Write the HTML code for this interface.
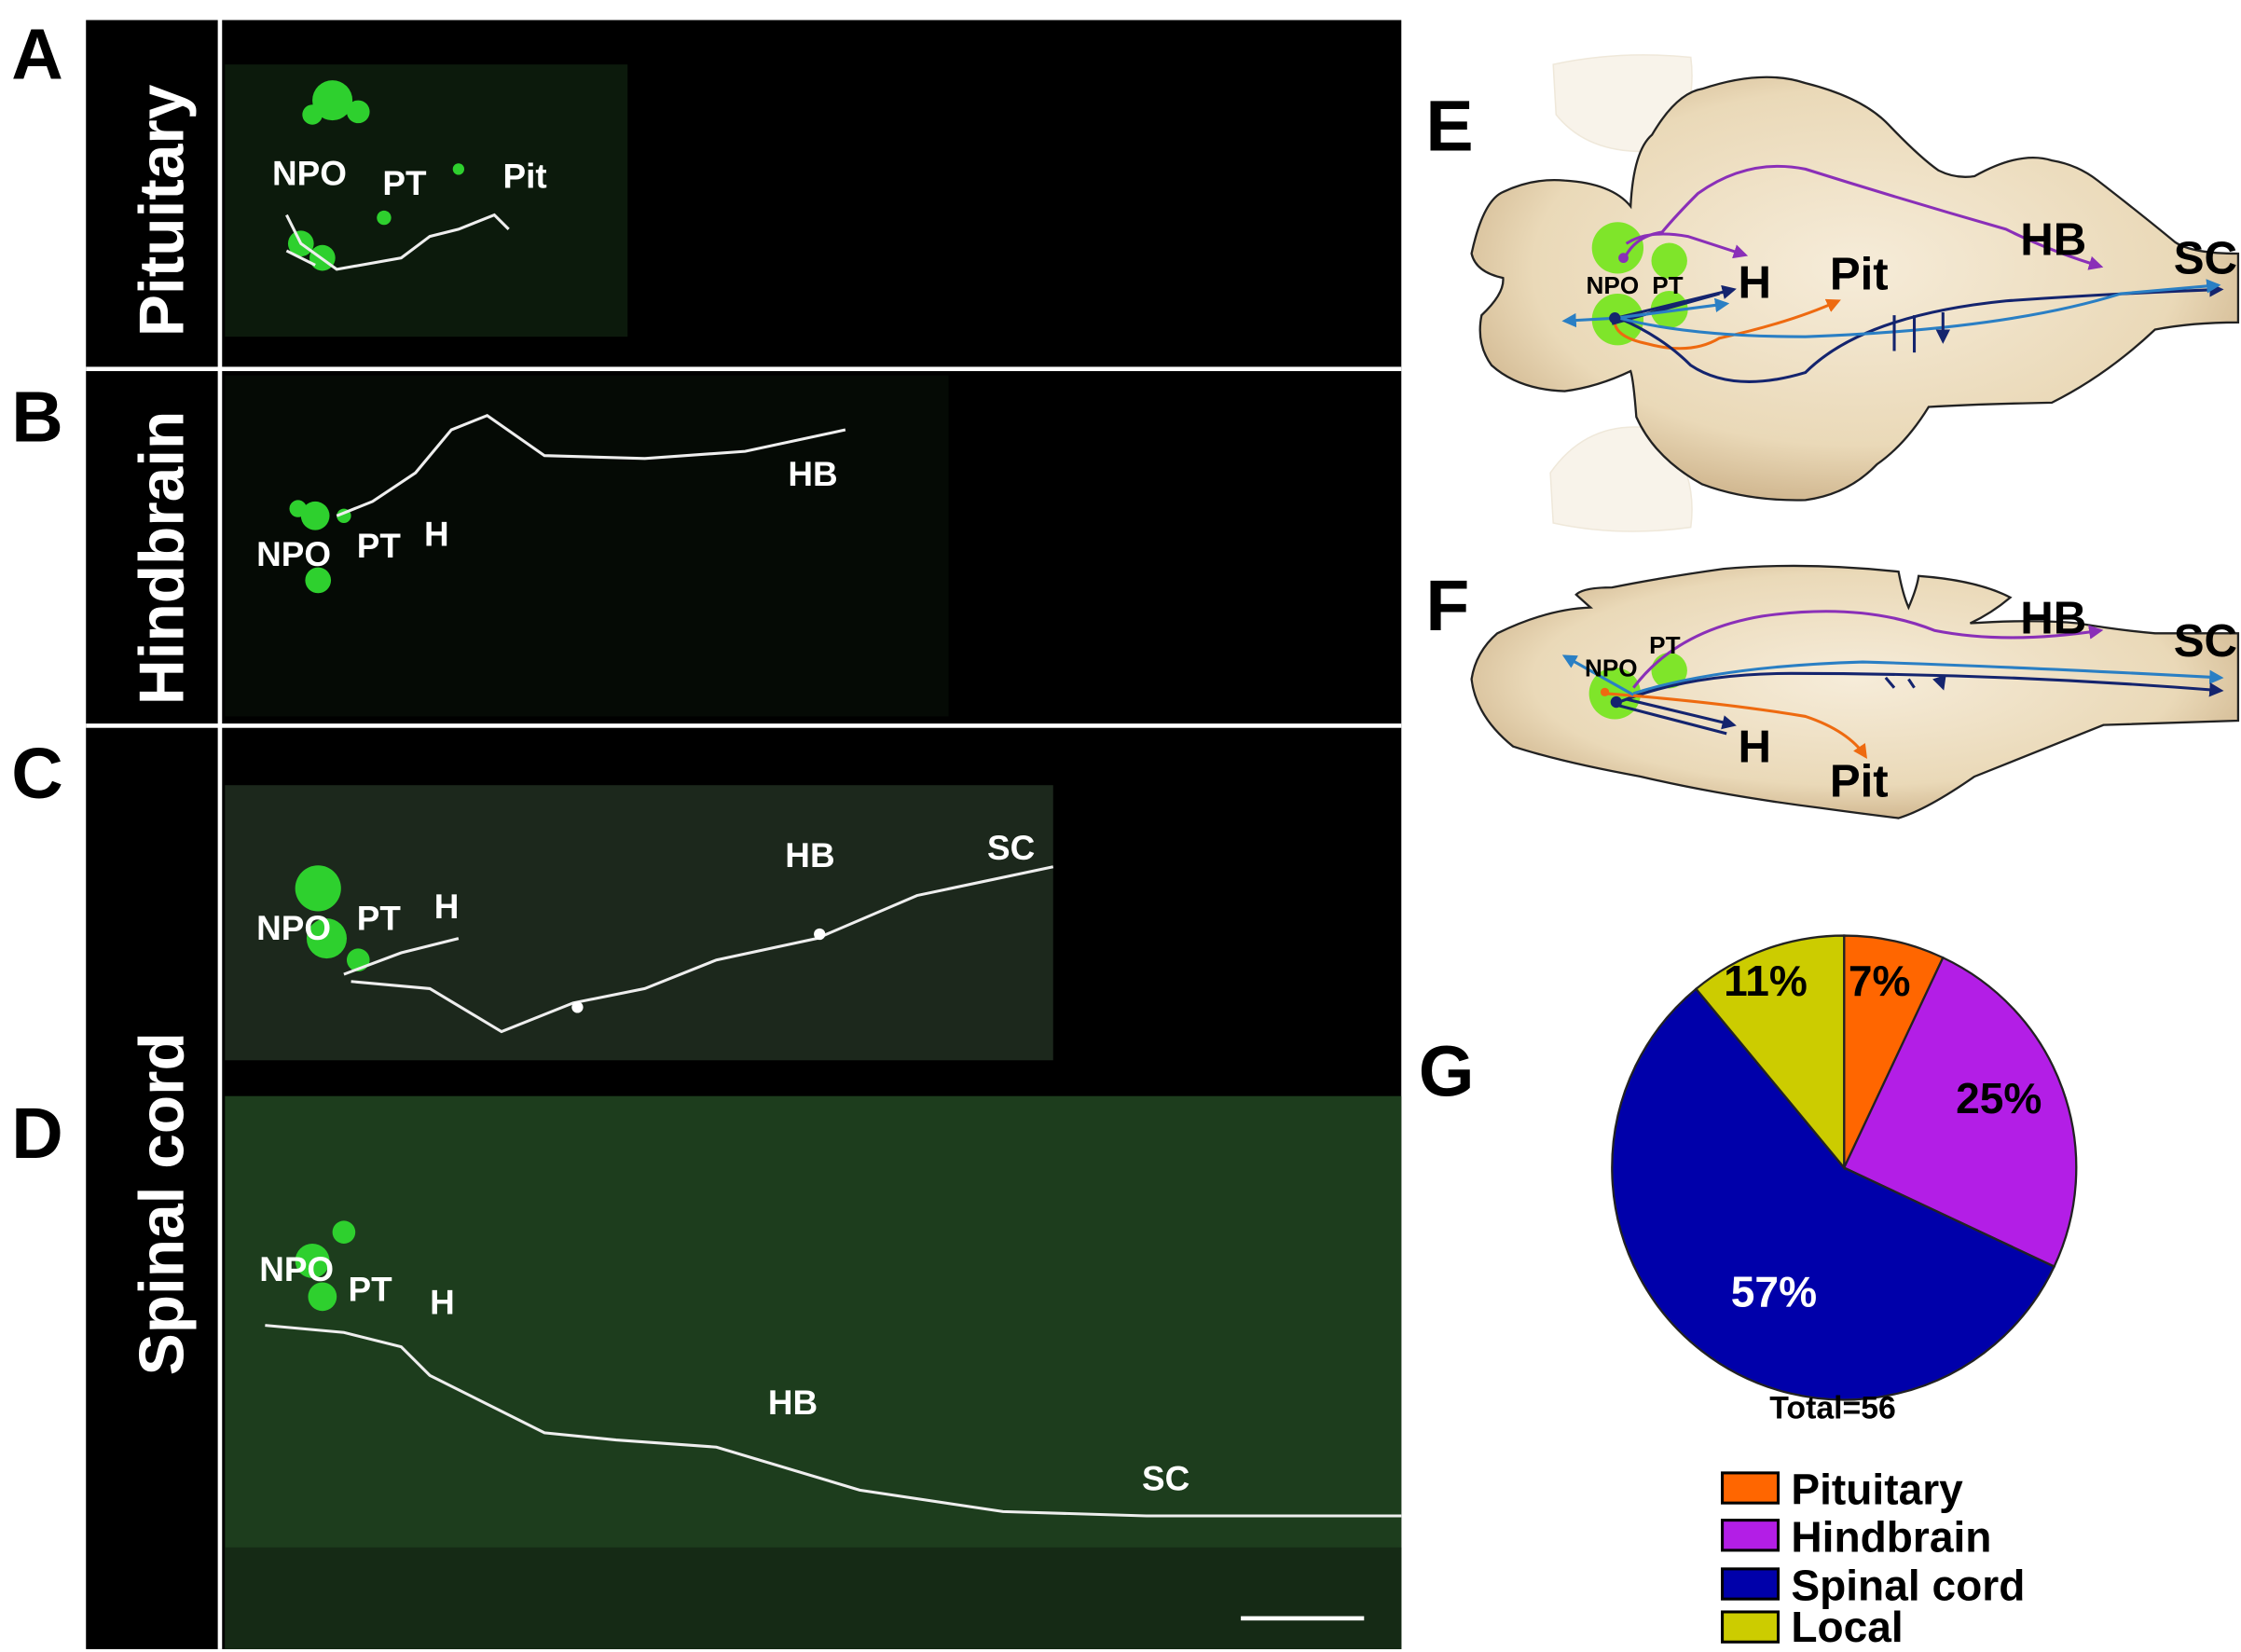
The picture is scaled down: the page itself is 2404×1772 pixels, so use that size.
<!DOCTYPE html>
<html><head><meta charset="utf-8"><style>html,body{margin:0;padding:0;background:#fff}svg{display:block}</style></head>
<body>
<svg width="2404" height="1772" viewBox="0 0 1564 1153" preserveAspectRatio="none" xmlns="http://www.w3.org/2000/svg" font-family="Liberation Sans, Arial, sans-serif">
<defs>
<radialGradient id="bg" cx="50%" cy="45%" r="60%"><stop offset="0" stop-color="#f6ecd9"/><stop offset="0.7" stop-color="#ead9b8"/><stop offset="1" stop-color="#c9ad84"/></radialGradient>
<marker id="ar" viewBox="0 0 10 10" refX="8" refY="5" markerWidth="5" markerHeight="5" orient="auto"><path d="M0,0L10,5L0,10z" fill="context-stroke"/></marker>
<marker id="ap" viewBox="0 0 10 10" refX="8" refY="5" markerWidth="5" markerHeight="5" orient="auto"><path d="M0,0L10,5L0,10z" fill="#8a2fb8"/></marker>
<marker id="ao" viewBox="0 0 10 10" refX="8" refY="5" markerWidth="5" markerHeight="5" orient="auto"><path d="M0,0L10,5L0,10z" fill="#ee6a10"/></marker>
<marker id="ad" viewBox="0 0 10 10" refX="8" refY="5" markerWidth="5" markerHeight="5" orient="auto"><path d="M0,0L10,5L0,10z" fill="#14246e"/></marker>
<marker id="al" viewBox="0 0 10 10" refX="8" refY="5" markerWidth="5" markerHeight="5" orient="auto"><path d="M0,0L10,5L0,10z" fill="#2a7fc4"/></marker>
</defs>
<!-- left black panels -->
<rect x="60" y="14" width="918" height="1137" fill="#000"/>
<rect x="152" y="14" width="3" height="1137" fill="#fff"/>
<rect x="60" y="256" width="918" height="3" fill="#fff"/>
<rect x="60" y="505" width="918" height="3" fill="#fff"/>
<!-- images -->
<rect x="157" y="45" width="281" height="190" fill="#0c1a0c"/>
<rect x="157" y="262" width="505" height="238" fill="#050a05"/>
<rect x="157" y="548" width="578" height="192" fill="#1c281c"/>
<rect x="157" y="765" width="821" height="386" fill="#1d3d1d"/>
<rect x="157" y="1080" width="821" height="71" fill="#152a15"/>
<!-- green cell clusters -->
<g fill="#2ed02e">
<circle cx="232" cy="70" r="14"/><circle cx="218" cy="80" r="7"/><circle cx="250" cy="78" r="8"/><circle cx="210" cy="170" r="9"/><circle cx="225" cy="180" r="9"/><circle cx="268" cy="152" r="5"/><circle cx="320" cy="118" r="4"/>
<circle cx="220" cy="360" r="10"/><circle cx="208" cy="355" r="6"/><circle cx="222" cy="405" r="9"/><circle cx="240" cy="360" r="5"/>
<circle cx="222" cy="620" r="16"/><circle cx="228" cy="655" r="14"/><circle cx="250" cy="670" r="8"/>
<circle cx="218" cy="880" r="12"/><circle cx="225" cy="905" r="10"/><circle cx="240" cy="860" r="8"/>
</g>
<!-- white tracings -->
<g fill="none" stroke="#eee" stroke-width="2">
<path d="M200,150 L210,170 L235,188 L280,180 L300,165 L320,160 L345,150 L355,160"/>
<path d="M200,175 L220,185"/>
<path d="M235,360 L260,350 L290,330 L315,300 L340,290 L380,318 L450,320 L520,315 L590,300"/>
<path d="M240,680 L280,665 L320,655 M245,685 L300,690 L350,720 L400,700 L450,690 L500,670 L570,655 L640,625 L735,605"/>
<path d="M185,925 L240,930 L280,940 L300,960 L340,980 L380,1000 L430,1005 L500,1010 L600,1040 L700,1055 L800,1058 L978,1058"/>
</g>
<circle cx="572" cy="652" r="4" fill="#fff"/><circle cx="403" cy="703" r="4" fill="#fff"/>
<rect x="866" y="1128" width="86" height="3" fill="#fff"/>
<!-- left labels -->
<g fill="#fff" font-weight="bold" font-size="24">
<text x="190" y="129">NPO</text><text x="267" y="136">PT</text><text x="351" y="131">Pit</text>
<text x="179" y="395">NPO</text><text x="249" y="389">PT</text><text x="296" y="381">H</text><text x="550" y="339">HB</text>
<text x="179" y="656">NPO</text><text x="249" y="649">PT</text><text x="303" y="641">H</text><text x="548" y="605">HB</text><text x="689" y="600">SC</text>
<text x="181" y="894">NPO</text><text x="243" y="908">PT</text><text x="300" y="917">H</text><text x="536" y="987">HB</text><text x="797" y="1040">SC</text>
</g>
<g fill="#fff" font-weight="bold" font-size="44">
<text transform="translate(128,235) rotate(-90)">Pituitary</text>
<text transform="translate(128,492) rotate(-90)">Hindbrain</text>
<text transform="translate(128,960) rotate(-90)">Spinal cord</text>
</g>
<g fill="#000" font-weight="bold" font-size="50">
<text x="8" y="55">A</text><text x="8" y="308">B</text><text x="8" y="557">C</text><text x="8" y="808">D</text>
<text x="995" y="105">E</text><text x="995" y="440">F</text><text x="990" y="765">G</text>
</g>
<!-- E brain -->
<path d="M1084,45 Q1130,35 1180,40 Q1185,80 1160,105 Q1110,110 1086,80Z" fill="#f8f3ea" stroke="#efe8da"/>
<path d="M1082,330 Q1110,290 1160,300 Q1185,330 1180,368 Q1130,375 1084,365Z" fill="#f8f3ea" stroke="#efe8da"/>
<path d="M1027,177 Q1035,140 1049,134 Q1070,124 1092,126 Q1125,128 1138,144 Q1140,105 1153,94 Q1170,65 1188,62 Q1230,48 1260,58 Q1300,68 1318,87 Q1340,110 1353,119 Q1365,125 1378,123 Q1410,105 1432,112 Q1450,115 1464,126 Q1495,150 1518,169 Q1530,177 1562,177 L1562,225 Q1530,225 1504,230 Q1470,262 1432,281 Q1380,282 1346,284 Q1330,310 1310,324 Q1290,345 1260,349 Q1220,350 1188,338 Q1155,320 1142,291 Q1140,265 1138,259 Q1115,270 1092,273 Q1060,272 1041,255 Q1030,240 1034,220 Q1050,205 1049,194 Q1030,190 1027,177Z" fill="url(#bg)" stroke="#222" stroke-width="1.5"/>
<g fill="#7fe52a"><circle cx="1129" cy="173" r="18"/><circle cx="1165" cy="182" r="12.5"/><circle cx="1129" cy="223" r="18"/><circle cx="1165" cy="216" r="13"/></g>
<g fill="none" stroke-width="2">
<path d="M1133,182 Q1140,165 1160,162 Q1170,150 1185,135 Q1220,110 1260,118 Q1330,140 1400,160 Q1430,175 1466,186" stroke="#8a2fb8" marker-end="url(#ap)"/>
<path d="M1135,170 Q1150,160 1178,165 L1218,178" stroke="#8a2fb8" marker-end="url(#ap)"/>
<path d="M1127,222 Q1125,235 1150,240 Q1180,248 1200,236 Q1250,225 1283,210" stroke="#ee6a10" marker-end="url(#ao)"/>
<path d="M1125,226 L1200,205 M1128,222 L1210,202" stroke="#14246e" marker-end="url(#ad)"/>
<path d="M1128,222 L1205,212" stroke="#2a7fc4" marker-end="url(#al)"/>
<path d="M1128,222 L1092,224" stroke="#2a7fc4" marker-end="url(#al)"/>
<path d="M1130,222 Q1160,235 1180,255 Q1210,275 1260,260 Q1300,220 1400,210 Q1470,205 1550,202" stroke="#14246e" marker-end="url(#ad)"/>
<path d="M1130,222 Q1180,235 1260,235 Q1400,230 1480,205 L1548,199" stroke="#2a7fc4" marker-end="url(#al)"/>
<path d="M1322,220 L1322,245 M1336,220 L1336,246 M1356,218 L1356,238" stroke="#14246e" marker-end="url(#ad)"/>
</g>
<circle cx="1133" cy="180" r="3.5" fill="#8a2fb8"/><circle cx="1127" cy="222" r="4" fill="#14246e"/>
<g font-weight="bold" fill="#000"><text x="1107" y="205" font-size="17">NPO</text><text x="1153" y="205" font-size="17">PT</text><text x="1213" y="208" font-size="32">H</text><text x="1277" y="202" font-size="32">Pit</text><text x="1410" y="178" font-size="32">HB</text><text x="1517" y="191" font-size="32">SC</text></g>
<!-- F brain -->
<path d="M1045,442 Q1080,425 1110,424 L1100,415 Q1105,410 1125,410 Q1160,403 1203,397 Q1260,392 1325,399 Q1328,415 1332,424 Q1338,410 1339,402 Q1380,405 1403,417 Q1390,428 1375,435 Q1420,432 1450,435 Q1480,440 1504,442 L1562,442 L1562,503 L1468,506 Q1420,525 1378,542 Q1345,565 1325,571 Q1300,568 1271,564 Q1200,555 1145,542 Q1090,532 1056,521 Q1030,500 1027,474 Q1030,455 1045,442Z" fill="url(#bg)" stroke="#222" stroke-width="1.5"/>
<g fill="#7fe52a"><circle cx="1165" cy="468" r="12.5"/><circle cx="1127" cy="484" r="18"/></g>
<g fill="none" stroke-width="2">
<path d="M1140,480 Q1170,440 1230,430 Q1300,420 1350,440 Q1400,450 1466,440" stroke="#8a2fb8" marker-end="url(#ap)"/>
<path d="M1140,484 Q1200,465 1300,462 Q1400,465 1550,473" stroke="#2a7fc4" marker-end="url(#al)"/>
<path d="M1130,490 Q1180,470 1250,470 Q1400,470 1550,482" stroke="#14246e" marker-end="url(#ad)"/>
<path d="M1120,484 Q1200,490 1260,500 Q1290,510 1302,528" stroke="#ee6a10" marker-end="url(#ao)"/>
<path d="M1128,492 L1205,512 M1135,488 L1210,506" stroke="#14246e" marker-end="url(#ad)"/>
<path d="M1140,485 L1092,458" stroke="#2a7fc4" marker-end="url(#al)"/>
<path d="M1316,473 L1322,480 M1332,474 L1336,480 M1354,474 L1356,480" stroke="#14246e" marker-end="url(#ad)"/>
</g>
<circle cx="1128" cy="490" r="4" fill="#14246e"/><circle cx="1120" cy="483" r="3" fill="#ee6a10"/>
<g font-weight="bold" fill="#000"><text x="1106" y="472" font-size="17">NPO</text><text x="1151" y="456" font-size="17">PT</text><text x="1213" y="532" font-size="32">H</text><text x="1277" y="556" font-size="32">Pit</text><text x="1410" y="442" font-size="32">HB</text><text x="1517" y="458" font-size="32">SC</text></g>
<!-- G pie -->
<g stroke="#222" stroke-width="1.5">
<path d="M1287,815 L1287,653 A162,162 0 0 1 1356,668.4Z" fill="#ff6600"/>
<path d="M1287,815 L1356,668.4 A162,162 0 0 1 1433.6,884Z" fill="#b31ee6"/>
<path d="M1287,815 L1433.6,884 A162,162 0 1 1 1183.7,690.2Z" fill="#0000aa"/>
<path d="M1287,815 L1183.7,690.2 A162,162 0 0 1 1287,653Z" fill="#cccc00"/>
</g>
<g font-weight="bold" font-size="30">
<text x="1203" y="695" fill="#000">11%</text><text x="1290" y="695" fill="#000">7%</text><text x="1365" y="777" fill="#000">25%</text><text x="1208" y="912" fill="#fff">57%</text>
<text x="1235" y="990" font-size="22" fill="#000">Total=56</text>
</g>
<g stroke="#000" stroke-width="2">
<rect x="1202" y="1028" width="39" height="21" fill="#ff6600"/>
<rect x="1202" y="1061" width="39" height="21" fill="#b31ee6"/>
<rect x="1202" y="1095" width="39" height="21" fill="#0000aa"/>
<rect x="1202" y="1125" width="39" height="21" fill="#cccc00"/>
</g>
<g font-weight="bold" font-size="30" fill="#000">
<text x="1250" y="1050">Pituitary</text><text x="1250" y="1083">Hindbrain</text><text x="1250" y="1117">Spinal cord</text><text x="1250" y="1146">Local</text>
</g>
</svg>
</body></html>
